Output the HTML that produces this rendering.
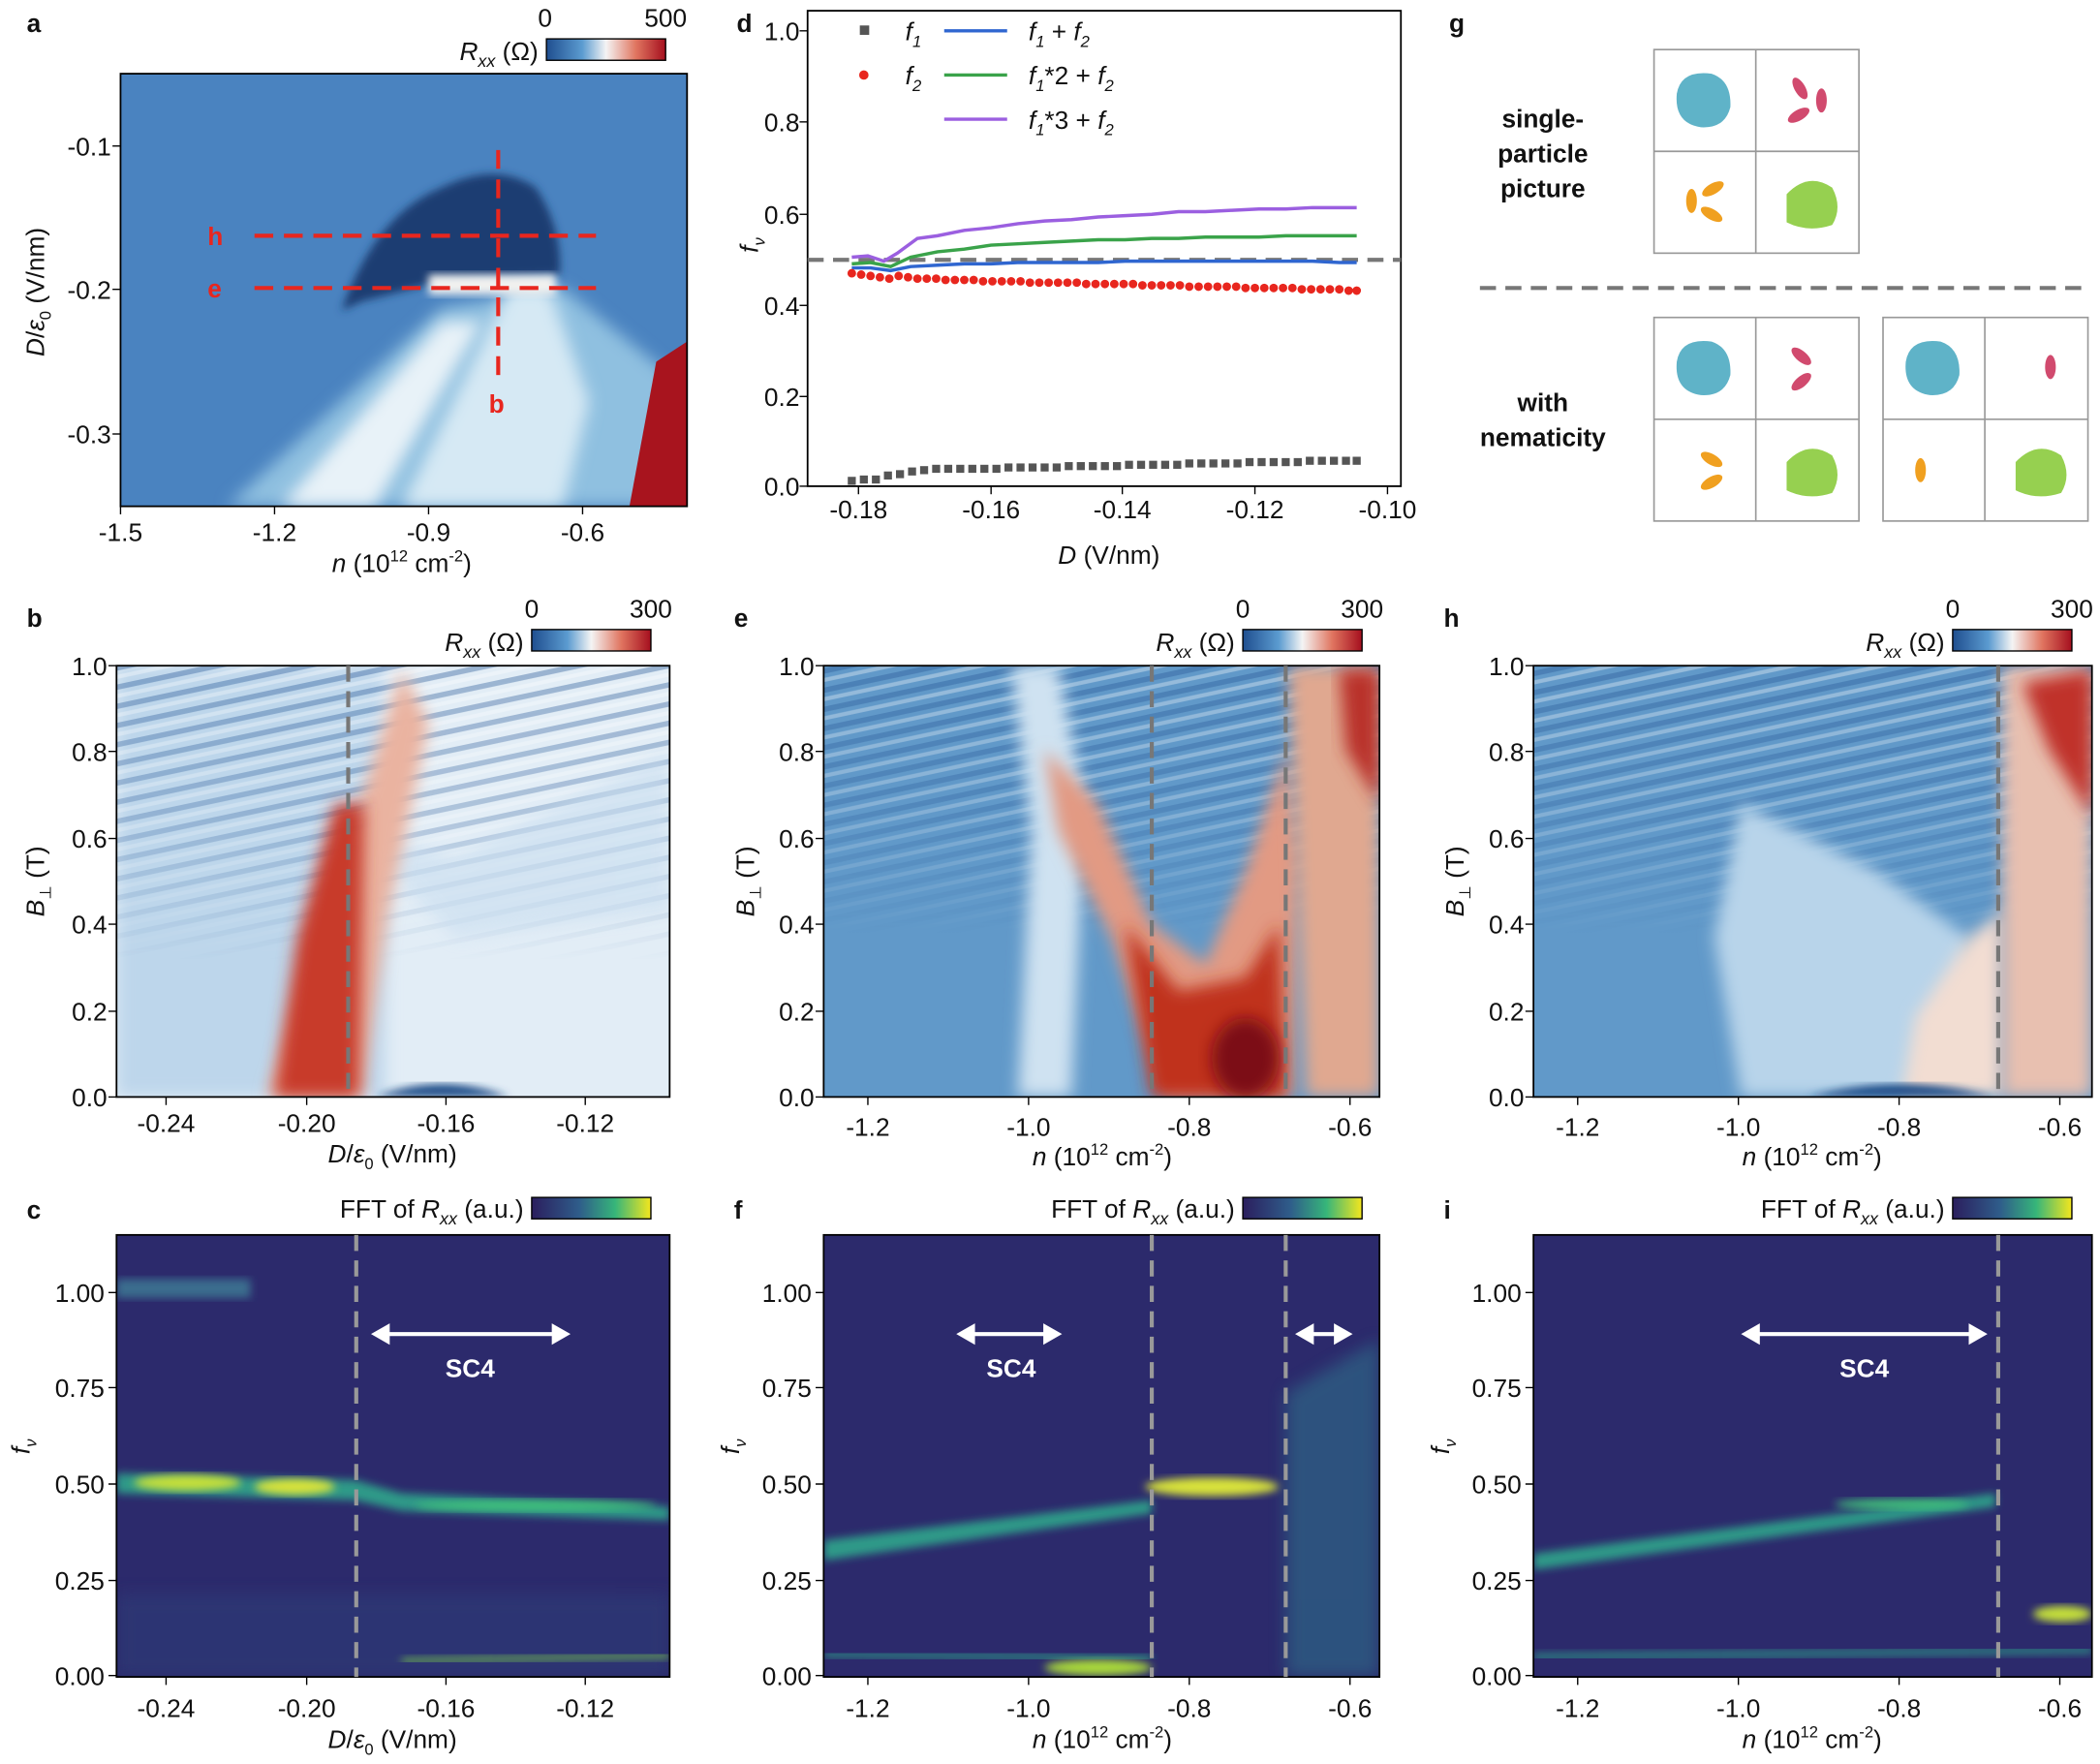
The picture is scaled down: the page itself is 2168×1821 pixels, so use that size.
<!DOCTYPE html>
<html><head><meta charset="utf-8"><style>
html,body{margin:0;padding:0;background:#fff}
svg{display:block}
text{font-family:"Liberation Sans",Arial,sans-serif;fill:#111}
.t{font-size:19px}
.b{font-weight:bold;font-size:19px}
</style></head><body>
<svg width="2168" height="1821" viewBox="0 0 1568 1317" xmlns="http://www.w3.org/2000/svg">
<defs>
<linearGradient id="rdbu" x1="0" x2="1"><stop offset="0" stop-color="#1f4e8f"/><stop offset=".3" stop-color="#5b9bd0"/><stop offset=".5" stop-color="#f4f4f4"/><stop offset=".75" stop-color="#e07560"/><stop offset="1" stop-color="#a50f1e"/></linearGradient>
<linearGradient id="vir" x1="0" x2="1"><stop offset="0" stop-color="#2b1e5e"/><stop offset=".4" stop-color="#2f5d8a"/><stop offset=".7" stop-color="#36b57a"/><stop offset="1" stop-color="#f4e61e"/></linearGradient>
<linearGradient id="fade" x1="0" x2="0" y1="0" y2="1"><stop offset="0" stop-color="#fff"/><stop offset=".5" stop-color="#fff" stop-opacity=".7"/><stop offset="1" stop-color="#fff" stop-opacity="0"/></linearGradient>
<mask id="fm" maskContentUnits="objectBoundingBox"><rect width="1" height="1" fill="url(#fade)"/></mask>
<filter id="bl" x="-20%" y="-20%" width="140%" height="140%"><feGaussianBlur stdDeviation="6"/></filter>
<filter id="bl2" x="-20%" y="-20%" width="140%" height="140%"><feGaussianBlur stdDeviation="3"/></filter>
<clipPath id="ca"><rect x="90" y="55" width="423" height="323"/></clipPath>
<clipPath id="cb"><rect x="87" y="497" width="413" height="322"/></clipPath>
<clipPath id="ce"><rect x="615" y="497" width="415" height="322"/></clipPath>
<clipPath id="ch"><rect x="1145" y="497" width="417" height="322"/></clipPath>
<clipPath id="cc"><rect x="87" y="922" width="413" height="330"/></clipPath>
<clipPath id="cf"><rect x="615" y="922" width="415" height="330"/></clipPath>
<clipPath id="ci"><rect x="1145" y="922" width="417" height="330"/></clipPath>
<pattern id="stripes" width="20" height="14" patternUnits="userSpaceOnUse" patternTransform="rotate(-12)"><rect width="20" height="4" fill="#2a5a98" opacity=".4"/><rect y="7" width="20" height="3" fill="#fff" opacity=".35"/></pattern>
</defs>

<!-- ===== Panel a ===== -->
<text x="20" y="24" class="b">a</text>
<g clip-path="url(#ca)">
<rect x="90" y="55" width="423" height="323" fill="#4a83c0"/>
<path d="M170 378 L330 230 L420 215 L513 290 L513 378Z" fill="#8fc0e0" filter="url(#bl)"/>
<path d="M210 378 L330 240 L360 240 L280 378Z" fill="#e8f2f8" filter="url(#bl)"/>
<path d="M300 378 L380 215 L410 215 L440 300 L420 378Z" fill="#d6e9f4" filter="url(#bl)"/>
<path d="M255 232 Q280 160 330 140 Q370 120 400 140 Q420 170 418 205 L330 210 L270 225Z" fill="#1e3d72" filter="url(#bl2)"/>
<rect x="320" y="205" width="95" height="15" fill="#f1f1ef" filter="url(#bl2)"/>
<path d="M490 270 L513 255 L513 378 L470 378Z" fill="#a8141e"/>
</g>
<rect x="90" y="55" width="423" height="323" fill="none" stroke="#000" stroke-width="1.3"/>
<g stroke="#e8261e" stroke-width="3" stroke-dasharray="14,8">
<line x1="190" y1="176" x2="445" y2="176"/><line x1="190" y1="215" x2="445" y2="215"/><line x1="372" y1="112" x2="372" y2="280"/></g>
<text x="155" y="183" style="fill:#e8261e" class="b">h</text>
<text x="155" y="222" style="fill:#e8261e" class="b">e</text>
<text x="365" y="308" style="fill:#e8261e" class="b">b</text>
<g class="t" text-anchor="end"><text x="83" y="116">-0.1</text><text x="83" y="223">-0.2</text><text x="83" y="331">-0.3</text></g>
<g stroke="#000"><line x1="84" y1="109" x2="90" y2="109"/><line x1="84" y1="216" x2="90" y2="216"/><line x1="84" y1="324" x2="90" y2="324"/>
<line x1="90" y1="378" x2="90" y2="384"/><line x1="205" y1="378" x2="205" y2="384"/><line x1="320" y1="378" x2="320" y2="384"/><line x1="435" y1="378" x2="435" y2="384"/></g>
<g class="t" text-anchor="middle"><text x="90" y="404">-1.5</text><text x="205" y="404">-1.2</text><text x="320" y="404">-0.9</text><text x="435" y="404">-0.6</text></g>
<text x="300" y="427" class="t" text-anchor="middle"><tspan font-style="italic">n</tspan> (10<tspan font-size="12" dy="-8">12</tspan><tspan dy="8"> cm</tspan><tspan font-size="12" dy="-8">-2</tspan><tspan dy="8">)</tspan></text>
<text transform="translate(33,218) rotate(-90)" class="t" text-anchor="middle"><tspan font-style="italic">D</tspan>/<tspan font-style="italic">ε</tspan><tspan font-size="12" dy="5">0</tspan><tspan dy="-5"> (V/nm)</tspan></text>
<rect x="408" y="29" width="89" height="16" fill="url(#rdbu)" stroke="#000"/>
<text x="407" y="20" class="t" text-anchor="middle">0</text><text x="497" y="20" class="t" text-anchor="middle">500</text>
<text x="402" y="45" class="t" text-anchor="end"><tspan font-style="italic">R</tspan><tspan font-style="italic" font-size="13" dy="5">xx</tspan><tspan dy="-5"> (Ω)</tspan></text>

<!-- ===== Panel d ===== -->
<text x="550" y="24" class="b">d</text>
<rect x="603" y="8" width="443" height="355" fill="none" stroke="#000" stroke-width="1.3"/>
<g class="t" text-anchor="end"><text x="597" y="30">1.0</text><text x="597" y="98">0.8</text><text x="597" y="167">0.6</text><text x="597" y="235">0.4</text><text x="597" y="303">0.2</text><text x="597" y="370">0.0</text></g>
<g stroke="#000"><line x1="597" y1="23" x2="603" y2="23"/><line x1="597" y1="91" x2="603" y2="91"/><line x1="597" y1="160" x2="603" y2="160"/><line x1="597" y1="228" x2="603" y2="228"/><line x1="597" y1="296" x2="603" y2="296"/><line x1="597" y1="363" x2="603" y2="363"/>
<line x1="641" y1="363" x2="641" y2="369"/><line x1="740" y1="363" x2="740" y2="369"/><line x1="838" y1="363" x2="838" y2="369"/><line x1="937" y1="363" x2="937" y2="369"/><line x1="1036" y1="363" x2="1036" y2="369"/></g>
<g class="t" text-anchor="middle"><text x="641" y="387">-0.18</text><text x="740" y="387">-0.16</text><text x="838" y="387">-0.14</text><text x="937" y="387">-0.12</text><text x="1036" y="387">-0.10</text></g>
<text x="828" y="421" class="t" text-anchor="middle"><tspan font-style="italic">D</tspan> (V/nm)</text>
<text transform="translate(566,183) rotate(-90)" class="t" font-style="italic" text-anchor="middle">f<tspan font-size="12" dy="5">ν</tspan></text>
<line x1="603" y1="194" x2="1046" y2="194" stroke="#777" stroke-width="3" stroke-dasharray="12,7"/>
<polyline fill="none" stroke="#9b5fe0" stroke-width="2.5" points="636,192 648,191 660,195 670,189 685,178 700,176 720,172 740,170 760,167 780,165 800,164 820,162 840,161 860,160 880,158 900,158 920,157 940,156 960,156 980,155 1000,155 1013,155"/>
<polyline fill="none" stroke="#3aa34a" stroke-width="2.5" points="636,197 650,196 665,199 680,192 700,188 720,186 740,183 760,182 780,181 800,180 820,179 840,179 860,178 880,178 900,177 920,177 940,177 960,176 980,176 1000,176 1013,176"/>
<polyline fill="none" stroke="#2f66d0" stroke-width="2.5" points="636,200 650,200 665,202 680,199 700,198 720,197 740,197 760,196 780,196 800,196 820,196 840,195 860,195 880,195 900,195 920,195 940,195 960,195 980,195 1000,196 1013,196"/>
<g fill="#e8261e">
<circle cx="636" cy="204" r="3.2"/><circle cx="643" cy="205" r="3.2"/><circle cx="650" cy="206" r="3.2"/><circle cx="657" cy="207" r="3.2"/><circle cx="664" cy="208" r="3.2"/><circle cx="671" cy="206" r="3.2"/><circle cx="678" cy="207" r="3.2"/><circle cx="685" cy="208" r="3.2"/><circle cx="692" cy="208" r="3.2"/><circle cx="699" cy="208" r="3.2"/><circle cx="706" cy="209" r="3.2"/><circle cx="713" cy="209" r="3.2"/><circle cx="720" cy="209" r="3.2"/><circle cx="727" cy="209" r="3.2"/><circle cx="734" cy="210" r="3.2"/><circle cx="741" cy="210" r="3.2"/><circle cx="748" cy="210" r="3.2"/><circle cx="755" cy="210" r="3.2"/><circle cx="762" cy="210" r="3.2"/><circle cx="769" cy="211" r="3.2"/><circle cx="776" cy="211" r="3.2"/><circle cx="783" cy="211" r="3.2"/><circle cx="790" cy="211" r="3.2"/><circle cx="797" cy="211" r="3.2"/><circle cx="804" cy="211" r="3.2"/><circle cx="811" cy="212" r="3.2"/><circle cx="818" cy="212" r="3.2"/><circle cx="825" cy="212" r="3.2"/><circle cx="832" cy="212" r="3.2"/><circle cx="839" cy="212" r="3.2"/><circle cx="846" cy="212" r="3.2"/><circle cx="853" cy="213" r="3.2"/><circle cx="860" cy="213" r="3.2"/><circle cx="867" cy="213" r="3.2"/><circle cx="874" cy="213" r="3.2"/><circle cx="881" cy="213" r="3.2"/><circle cx="888" cy="214" r="3.2"/><circle cx="895" cy="214" r="3.2"/><circle cx="902" cy="214" r="3.2"/><circle cx="909" cy="214" r="3.2"/><circle cx="916" cy="214" r="3.2"/><circle cx="923" cy="214" r="3.2"/><circle cx="930" cy="215" r="3.2"/><circle cx="937" cy="215" r="3.2"/><circle cx="944" cy="215" r="3.2"/><circle cx="951" cy="215" r="3.2"/><circle cx="958" cy="215" r="3.2"/><circle cx="965" cy="215" r="3.2"/><circle cx="972" cy="216" r="3.2"/><circle cx="979" cy="216" r="3.2"/><circle cx="986" cy="216" r="3.2"/><circle cx="993" cy="216" r="3.2"/><circle cx="1000" cy="216" r="3.2"/><circle cx="1007" cy="217" r="3.2"/><circle cx="1013" cy="217" r="3.2"/>
</g>
<g fill="#555">
<rect x="633" y="356" width="6" height="6"/><rect x="642" y="355" width="6" height="6"/><rect x="651" y="355" width="6" height="6"/><rect x="660" y="352" width="6" height="6"/><rect x="669" y="351" width="6" height="6"/><rect x="678" y="349" width="6" height="6"/><rect x="687" y="348" width="6" height="6"/><rect x="696" y="347" width="6" height="6"/><rect x="705" y="347" width="6" height="6"/><rect x="714" y="347" width="6" height="6"/><rect x="723" y="347" width="6" height="6"/><rect x="732" y="347" width="6" height="6"/><rect x="741" y="347" width="6" height="6"/><rect x="750" y="346" width="6" height="6"/><rect x="759" y="346" width="6" height="6"/><rect x="768" y="346" width="6" height="6"/><rect x="777" y="346" width="6" height="6"/><rect x="786" y="346" width="6" height="6"/><rect x="795" y="345" width="6" height="6"/><rect x="804" y="345" width="6" height="6"/><rect x="813" y="345" width="6" height="6"/><rect x="822" y="345" width="6" height="6"/><rect x="831" y="345" width="6" height="6"/><rect x="840" y="344" width="6" height="6"/><rect x="849" y="344" width="6" height="6"/><rect x="858" y="344" width="6" height="6"/><rect x="867" y="344" width="6" height="6"/><rect x="876" y="344" width="6" height="6"/><rect x="885" y="343" width="6" height="6"/><rect x="894" y="343" width="6" height="6"/><rect x="903" y="343" width="6" height="6"/><rect x="912" y="343" width="6" height="6"/><rect x="921" y="343" width="6" height="6"/><rect x="930" y="342" width="6" height="6"/><rect x="939" y="342" width="6" height="6"/><rect x="948" y="342" width="6" height="6"/><rect x="957" y="342" width="6" height="6"/><rect x="966" y="342" width="6" height="6"/><rect x="975" y="341" width="6" height="6"/><rect x="984" y="341" width="6" height="6"/><rect x="993" y="341" width="6" height="6"/><rect x="1002" y="341" width="6" height="6"/><rect x="1010" y="341" width="6" height="6"/>
</g>
<rect x="642" y="19" width="7" height="7" fill="#555"/><circle cx="645" cy="56" r="3.5" fill="#e8261e"/>
<text x="676" y="30" class="t" font-style="italic">f<tspan font-size="12" dy="5">1</tspan></text>
<text x="676" y="63" class="t" font-style="italic">f<tspan font-size="12" dy="5">2</tspan></text>
<line x1="705" y1="23" x2="752" y2="23" stroke="#2f66d0" stroke-width="2.5"/>
<line x1="705" y1="56" x2="752" y2="56" stroke="#3aa34a" stroke-width="2.5"/>
<line x1="705" y1="89" x2="752" y2="89" stroke="#9b5fe0" stroke-width="2.5"/>
<text x="768" y="30" class="t"><tspan font-style="italic">f</tspan><tspan font-size="12" dy="5" font-style="italic">1</tspan><tspan dy="-5"> + </tspan><tspan font-style="italic">f</tspan><tspan font-size="12" dy="5" font-style="italic">2</tspan></text>
<text x="768" y="63" class="t"><tspan font-style="italic">f</tspan><tspan font-size="12" dy="5" font-style="italic">1</tspan><tspan dy="-5">*2 + </tspan><tspan font-style="italic">f</tspan><tspan font-size="12" dy="5" font-style="italic">2</tspan></text>
<text x="768" y="96" class="t"><tspan font-style="italic">f</tspan><tspan font-size="12" dy="5" font-style="italic">1</tspan><tspan dy="-5">*3 + </tspan><tspan font-style="italic">f</tspan><tspan font-size="12" dy="5" font-style="italic">2</tspan></text>

<!-- ===== Panel g ===== -->
<text x="1082" y="24" class="b">g</text>
<g font-weight="bold" class="t" text-anchor="middle"><text x="1152" y="95">single-</text><text x="1152" y="121">particle</text><text x="1152" y="147">picture</text><text x="1152" y="307">with</text><text x="1152" y="333">nematicity</text></g>
<line x1="1105" y1="215" x2="1560" y2="215" stroke="#777" stroke-width="3" stroke-dasharray="12,7"/>
<g fill="none" stroke="#999" stroke-width="1.2">
<rect x="1235" y="37" width="153" height="152"/><line x1="1311" y1="37" x2="1311" y2="189"/><line x1="1235" y1="113" x2="1388" y2="113"/>
<rect x="1235" y="237" width="153" height="152"/><line x1="1311" y1="237" x2="1311" y2="389"/><line x1="1235" y1="313" x2="1388" y2="313"/>
<rect x="1406" y="237" width="153" height="152"/><line x1="1482" y1="237" x2="1482" y2="389"/><line x1="1406" y1="313" x2="1559" y2="313"/></g>
<g fill="#5fb3c8"><path d="M1252 70 Q1255 52 1278 55 Q1293 60 1292 80 Q1288 96 1270 95 Q1250 92 1252 70Z"/><path d="M1252 270 Q1255 252 1278 255 Q1293 260 1292 280 Q1288 296 1270 295 Q1250 292 1252 270Z"/><path d="M1423 270 Q1426 252 1449 255 Q1464 260 1463 280 Q1459 296 1441 295 Q1421 292 1423 270Z"/></g>
<g fill="#96d050"><path d="M1334 145 Q1350 128 1368 140 Q1376 155 1368 168 Q1350 174 1334 166Z"/><path d="M1334 345 Q1350 328 1368 340 Q1376 355 1368 368 Q1350 374 1334 366Z"/><path d="M1505 345 Q1521 328 1539 340 Q1547 355 1539 368 Q1521 374 1505 366Z"/></g>
<g fill="#d14a6e"><ellipse cx="1344" cy="66" rx="4" ry="9" transform="rotate(-30 1344 66)"/><ellipse cx="1360" cy="75" rx="4" ry="9"/><ellipse cx="1343" cy="86" rx="4" ry="9" transform="rotate(60 1343 86)"/>
<ellipse cx="1345" cy="266" rx="4" ry="9" transform="rotate(-50 1345 266)"/><ellipse cx="1345" cy="285" rx="4" ry="9" transform="rotate(50 1345 285)"/><ellipse cx="1531" cy="274" rx="4" ry="9"/></g>
<g fill="#f0a020"><ellipse cx="1263" cy="150" rx="4" ry="9"/><ellipse cx="1279" cy="141" rx="4" ry="9" transform="rotate(60 1279 141)"/><ellipse cx="1278" cy="160" rx="4" ry="9" transform="rotate(-60 1278 160)"/>
<ellipse cx="1278" cy="343" rx="4" ry="9" transform="rotate(-60 1278 343)"/><ellipse cx="1278" cy="360" rx="4" ry="9" transform="rotate(60 1278 360)"/><ellipse cx="1434" cy="351" rx="4" ry="9"/></g>

<!-- ===== Panel b ===== -->
<text x="20" y="468" class="b">b</text>
<g clip-path="url(#cb)">
<rect x="87" y="497" width="413" height="322" fill="#e2edf6"/>
<rect x="87" y="497" width="200" height="322" fill="#bdd6eb" filter="url(#bl)"/>
<rect x="87" y="497" width="413" height="220" fill="url(#stripes)" mask="url(#fm)"/>
<path d="M260 620 L340 640 L500 560 L500 680 L340 700Z" fill="#c9def0" opacity=".6" filter="url(#bl)"/>
<path d="M120 819 L200 819 L240 680 L275 580 L300 500 L320 540 L290 680 L270 819Z" fill="#eab3a0" filter="url(#bl)"/>
<path d="M205 819 L222 700 L250 600 L272 600 L268 819Z" fill="#c83a2c" filter="url(#bl)"/>
<path d="M280 819 Q330 800 380 819Z" fill="#1e4b87" filter="url(#bl2)"/>
</g>
<rect x="87" y="497" width="413" height="322" fill="none" stroke="#000" stroke-width="1.3"/>
<line x1="260" y1="497" x2="260" y2="819" stroke="#777" stroke-width="3" stroke-dasharray="12,7"/>

<!-- ===== Panel e ===== -->
<text x="548" y="468" class="b">e</text>
<g clip-path="url(#ce)">
<rect x="615" y="497" width="415" height="322" fill="#6199c9"/>
<rect x="615" y="497" width="415" height="200" fill="url(#stripes)" mask="url(#fm)"/>
<path d="M755 497 L790 497 L810 600 L800 819 L760 819 L770 620Z" fill="#cfe2f1" filter="url(#bl)"/>
<path d="M780 560 L820 600 L860 690 L900 720 L930 650 L960 560 L970 640 L965 819 L870 819 L830 700 L790 620Z" fill="#e29a83" filter="url(#bl)"/>
<path d="M840 690 L880 740 L930 730 L955 690 L960 819 L860 819Z" fill="#c0301f" filter="url(#bl)"/>
<ellipse cx="930" cy="790" rx="25" ry="30" fill="#7b0c16" filter="url(#bl)"/>
<path d="M962 497 L1030 497 L1030 819 L975 819Z" fill="#e0a890" filter="url(#bl)"/>
<path d="M1000 500 L1030 500 L1030 600 L1005 560Z" fill="#b9302a" filter="url(#bl)"/>
</g>
<rect x="615" y="497" width="415" height="322" fill="none" stroke="#000" stroke-width="1.3"/>
<line x1="860" y1="497" x2="860" y2="819" stroke="#777" stroke-width="3" stroke-dasharray="12,7"/>
<line x1="960" y1="497" x2="960" y2="819" stroke="#777" stroke-width="3" stroke-dasharray="12,7"/>

<!-- ===== Panel h ===== -->
<text x="1078" y="468" class="b">h</text>
<g clip-path="url(#ch)">
<rect x="1145" y="497" width="417" height="322" fill="#6199c9"/>
<rect x="1145" y="497" width="417" height="200" fill="url(#stripes)" mask="url(#fm)"/>
<path d="M1300 600 L1400 650 L1470 700 L1480 819 L1300 819 L1280 700Z" fill="#b8d4ea" filter="url(#bl)"/>
<path d="M1420 819 L1430 760 L1470 700 L1495 680 L1495 819Z" fill="#f2ddd2" filter="url(#bl)"/>
<path d="M1495 497 L1562 497 L1562 819 L1495 819Z" fill="#e8c0b0" filter="url(#bl)"/>
<path d="M1510 510 L1562 500 L1562 610 L1530 560Z" fill="#c0302a" filter="url(#bl)"/>
<path d="M1350 819 Q1420 800 1490 819Z" fill="#1e4b87" filter="url(#bl2)"/>
</g>
<rect x="1145" y="497" width="417" height="322" fill="none" stroke="#000" stroke-width="1.3"/>
<line x1="1492" y1="497" x2="1492" y2="819" stroke="#777" stroke-width="3" stroke-dasharray="12,7"/>

<!-- ticks b,e,h -->
<g stroke="#000">
<path d="M81 497h6M81 561h6M81 626h6M81 690h6M81 755h6M81 819h6M124 819v6M229 819v6M333 819v6M437 819v6"/>
<path d="M609 497h6M609 561h6M609 626h6M609 690h6M609 755h6M609 819h6M648 819v6M768 819v6M888 819v6M1008 819v6"/>
<path d="M1139 497h6M1139 561h6M1139 626h6M1139 690h6M1139 755h6M1139 819h6M1178 819v6M1298 819v6M1418 819v6M1538 819v6"/>
<path d="M81 965h6M81 1036h6M81 1108h6M81 1180h6M81 1251h6M124 1252v6M229 1252v6M333 1252v6M437 1252v6"/>
<path d="M609 965h6M609 1036h6M609 1108h6M609 1180h6M609 1251h6M648 1252v6M768 1252v6M888 1252v6M1008 1252v6"/>
<path d="M1139 965h6M1139 1036h6M1139 1108h6M1139 1180h6M1139 1251h6M1178 1252v6M1298 1252v6M1418 1252v6M1538 1252v6"/>
</g>
<g class="t" text-anchor="end">
<text x="80" y="504">1.0</text><text x="80" y="568">0.8</text><text x="80" y="633">0.6</text><text x="80" y="697">0.4</text><text x="80" y="762">0.2</text><text x="80" y="826">0.0</text>
<text x="608" y="504">1.0</text><text x="608" y="568">0.8</text><text x="608" y="633">0.6</text><text x="608" y="697">0.4</text><text x="608" y="762">0.2</text><text x="608" y="826">0.0</text>
<text x="1138" y="504">1.0</text><text x="1138" y="568">0.8</text><text x="1138" y="633">0.6</text><text x="1138" y="697">0.4</text><text x="1138" y="762">0.2</text><text x="1138" y="826">0.0</text></g>
<g class="t" text-anchor="middle">
<text x="124" y="845">-0.24</text><text x="229" y="845">-0.20</text><text x="333" y="845">-0.16</text><text x="437" y="845">-0.12</text>
<text x="648" y="848">-1.2</text><text x="768" y="848">-1.0</text><text x="888" y="848">-0.8</text><text x="1008" y="848">-0.6</text>
<text x="1178" y="848">-1.2</text><text x="1298" y="848">-1.0</text><text x="1418" y="848">-0.8</text><text x="1538" y="848">-0.6</text></g>
<text x="293" y="868" class="t" text-anchor="middle"><tspan font-style="italic">D</tspan>/<tspan font-style="italic">ε</tspan><tspan font-size="12" dy="5">0</tspan><tspan dy="-5"> (V/nm)</tspan></text>
<text x="823" y="870" class="t" text-anchor="middle"><tspan font-style="italic">n</tspan> (10<tspan font-size="12" dy="-8">12</tspan><tspan dy="8"> cm</tspan><tspan font-size="12" dy="-8">-2</tspan><tspan dy="8">)</tspan></text>
<text x="1353" y="870" class="t" text-anchor="middle"><tspan font-style="italic">n</tspan> (10<tspan font-size="12" dy="-8">12</tspan><tspan dy="8"> cm</tspan><tspan font-size="12" dy="-8">-2</tspan><tspan dy="8">)</tspan></text>
<text transform="translate(33,658) rotate(-90)" class="t" text-anchor="middle"><tspan font-style="italic">B</tspan><tspan font-size="12" dy="5">⊥</tspan><tspan dy="-5"> (T)</tspan></text>
<text transform="translate(563,658) rotate(-90)" class="t" text-anchor="middle"><tspan font-style="italic">B</tspan><tspan font-size="12" dy="5">⊥</tspan><tspan dy="-5"> (T)</tspan></text>
<text transform="translate(1093,658) rotate(-90)" class="t" text-anchor="middle"><tspan font-style="italic">B</tspan><tspan font-size="12" dy="5">⊥</tspan><tspan dy="-5"> (T)</tspan></text>
<g>
<rect x="397" y="470" width="89" height="16" fill="url(#rdbu)" stroke="#000"/><text x="397" y="461" class="t" text-anchor="middle">0</text><text x="486" y="461" class="t" text-anchor="middle">300</text>
<text x="391" y="486" class="t" text-anchor="end"><tspan font-style="italic">R</tspan><tspan font-style="italic" font-size="13" dy="5">xx</tspan><tspan dy="-5"> (Ω)</tspan></text>
<rect x="928" y="470" width="89" height="16" fill="url(#rdbu)" stroke="#000"/><text x="928" y="461" class="t" text-anchor="middle">0</text><text x="1017" y="461" class="t" text-anchor="middle">300</text>
<text x="922" y="486" class="t" text-anchor="end"><tspan font-style="italic">R</tspan><tspan font-style="italic" font-size="13" dy="5">xx</tspan><tspan dy="-5"> (Ω)</tspan></text>
<rect x="1458" y="470" width="89" height="16" fill="url(#rdbu)" stroke="#000"/><text x="1458" y="461" class="t" text-anchor="middle">0</text><text x="1547" y="461" class="t" text-anchor="middle">300</text>
<text x="1452" y="486" class="t" text-anchor="end"><tspan font-style="italic">R</tspan><tspan font-style="italic" font-size="13" dy="5">xx</tspan><tspan dy="-5"> (Ω)</tspan></text>
</g>

<!-- ===== Panel c ===== -->
<text x="20" y="910" class="b">c</text>
<g clip-path="url(#cc)">
<rect x="87" y="922" width="413" height="330" fill="#2c2a6c"/>
<rect x="87" y="955" width="100" height="14" fill="#3b6d8e" filter="url(#bl2)"/>
<rect x="87" y="1190" width="413" height="62" fill="#2d3c78" opacity=".6" filter="url(#bl)"/>
<path d="M87 1100 L265 1105 L300 1115 L500 1125 L500 1135 L300 1128 L265 1120 L87 1115Z" fill="#2f9a88" filter="url(#bl2)"/>
<ellipse cx="140" cy="1107" rx="40" ry="6" fill="#c5df3a" filter="url(#bl2)"/>
<ellipse cx="220" cy="1110" rx="30" ry="6" fill="#d8e23a" filter="url(#bl2)"/>
<ellipse cx="400" cy="1124" rx="90" ry="4" fill="#3fbf7a" filter="url(#bl2)"/>
<line x1="300" y1="1240" x2="500" y2="1236" stroke="#7fd14a" stroke-width="3" filter="url(#bl2)"/>
</g>
<rect x="87" y="922" width="413" height="330" fill="none" stroke="#000" stroke-width="1.3"/>
<line x1="266" y1="922" x2="266" y2="1252" stroke="#999" stroke-width="3" stroke-dasharray="12,7"/>
<g stroke="#fff" stroke-width="3" fill="#fff"><line x1="285" y1="996" x2="418" y2="996"/><path d="M277 996 L291 988 L291 1004Z" stroke="none"/><path d="M426 996 L412 988 L412 1004Z" stroke="none"/></g>
<text x="351" y="1028" class="b" text-anchor="middle" style="fill:#fff">SC4</text>

<!-- ===== Panel f ===== -->
<text x="548" y="910" class="b">f</text>
<g clip-path="url(#cf)">
<rect x="615" y="922" width="415" height="330" fill="#2c2a6c"/>
<path d="M615 1150 L860 1120 L860 1130 L615 1165Z" fill="#2f9a88" filter="url(#bl2)"/>
<ellipse cx="905" cy="1110" rx="50" ry="7" fill="#d8e23a" filter="url(#bl2)"/>
<path d="M960 1040 L1030 1000 L1030 1252 L960 1252Z" fill="#2f6e8a" opacity=".6" filter="url(#bl)"/>
<ellipse cx="820" cy="1245" rx="40" ry="6" fill="#a9d83a" filter="url(#bl2)"/>
<line x1="615" y1="1235" x2="860" y2="1238" stroke="#2f9a88" stroke-width="4" filter="url(#bl2)"/>
</g>
<rect x="615" y="922" width="415" height="330" fill="none" stroke="#000" stroke-width="1.3"/>
<line x1="860" y1="922" x2="860" y2="1252" stroke="#999" stroke-width="3" stroke-dasharray="12,7"/>
<line x1="960" y1="922" x2="960" y2="1252" stroke="#999" stroke-width="3" stroke-dasharray="12,7"/>
<g stroke="#fff" stroke-width="3" fill="#fff"><line x1="722" y1="996" x2="785" y2="996"/><path d="M714 996 L728 988 L728 1004Z" stroke="none"/><path d="M793 996 L779 988 L779 1004Z" stroke="none"/>
<line x1="975" y1="996" x2="1002" y2="996"/><path d="M967 996 L981 988 L981 1004Z" stroke="none"/><path d="M1010 996 L996 988 L996 1004Z" stroke="none"/></g>
<text x="755" y="1028" class="b" text-anchor="middle" style="fill:#fff">SC4</text>

<!-- ===== Panel i ===== -->
<text x="1078" y="910" class="b">i</text>
<g clip-path="url(#ci)">
<rect x="1145" y="922" width="417" height="330" fill="#2c2a6c"/>
<path d="M1145 1160 L1490 1115 L1490 1125 L1145 1172Z" fill="#2f9a88" filter="url(#bl2)"/>
<ellipse cx="1420" cy="1123" rx="50" ry="4" fill="#3fbf7a" filter="url(#bl2)"/>
<ellipse cx="1540" cy="1205" rx="22" ry="6" fill="#c5df3a" filter="url(#bl2)"/>
<line x1="1145" y1="1237" x2="1562" y2="1232" stroke="#2f9a88" stroke-width="4" filter="url(#bl2)"/>
</g>
<rect x="1145" y="922" width="417" height="330" fill="none" stroke="#000" stroke-width="1.3"/>
<line x1="1492" y1="922" x2="1492" y2="1252" stroke="#999" stroke-width="3" stroke-dasharray="12,7"/>
<g stroke="#fff" stroke-width="3" fill="#fff"><line x1="1308" y1="996" x2="1476" y2="996"/><path d="M1300 996 L1314 988 L1314 1004Z" stroke="none"/><path d="M1484 996 L1470 988 L1470 1004Z" stroke="none"/></g>
<text x="1392" y="1028" class="b" text-anchor="middle" style="fill:#fff">SC4</text>

<g class="t" text-anchor="end">
<text x="78" y="972">1.00</text><text x="78" y="1043">0.75</text><text x="78" y="1115">0.50</text><text x="78" y="1187">0.25</text><text x="78" y="1258">0.00</text>
<text x="606" y="972">1.00</text><text x="606" y="1043">0.75</text><text x="606" y="1115">0.50</text><text x="606" y="1187">0.25</text><text x="606" y="1258">0.00</text>
<text x="1136" y="972">1.00</text><text x="1136" y="1043">0.75</text><text x="1136" y="1115">0.50</text><text x="1136" y="1187">0.25</text><text x="1136" y="1258">0.00</text></g>
<g class="t" text-anchor="middle">
<text x="124" y="1282">-0.24</text><text x="229" y="1282">-0.20</text><text x="333" y="1282">-0.16</text><text x="437" y="1282">-0.12</text>
<text x="648" y="1282">-1.2</text><text x="768" y="1282">-1.0</text><text x="888" y="1282">-0.8</text><text x="1008" y="1282">-0.6</text>
<text x="1178" y="1282">-1.2</text><text x="1298" y="1282">-1.0</text><text x="1418" y="1282">-0.8</text><text x="1538" y="1282">-0.6</text></g>
<text x="293" y="1305" class="t" text-anchor="middle"><tspan font-style="italic">D</tspan>/<tspan font-style="italic">ε</tspan><tspan font-size="12" dy="5">0</tspan><tspan dy="-5"> (V/nm)</tspan></text>
<text x="823" y="1305" class="t" text-anchor="middle"><tspan font-style="italic">n</tspan> (10<tspan font-size="12" dy="-8">12</tspan><tspan dy="8"> cm</tspan><tspan font-size="12" dy="-8">-2</tspan><tspan dy="8">)</tspan></text>
<text x="1353" y="1305" class="t" text-anchor="middle"><tspan font-style="italic">n</tspan> (10<tspan font-size="12" dy="-8">12</tspan><tspan dy="8"> cm</tspan><tspan font-size="12" dy="-8">-2</tspan><tspan dy="8">)</tspan></text>
<text transform="translate(22,1080) rotate(-90)" class="t" font-style="italic" text-anchor="middle">f<tspan font-size="12" dy="5">ν</tspan></text>
<text transform="translate(552,1080) rotate(-90)" class="t" font-style="italic" text-anchor="middle">f<tspan font-size="12" dy="5">ν</tspan></text>
<text transform="translate(1082,1080) rotate(-90)" class="t" font-style="italic" text-anchor="middle">f<tspan font-size="12" dy="5">ν</tspan></text>
<g>
<rect x="397" y="894" width="89" height="16" fill="url(#vir)" stroke="#000"/>
<text x="391" y="909" class="t" text-anchor="end">FFT of <tspan font-style="italic">R</tspan><tspan font-style="italic" font-size="13" dy="5">xx</tspan><tspan dy="-5"> (a.u.)</tspan></text>
<rect x="928" y="894" width="89" height="16" fill="url(#vir)" stroke="#000"/>
<text x="922" y="909" class="t" text-anchor="end">FFT of <tspan font-style="italic">R</tspan><tspan font-style="italic" font-size="13" dy="5">xx</tspan><tspan dy="-5"> (a.u.)</tspan></text>
<rect x="1458" y="894" width="89" height="16" fill="url(#vir)" stroke="#000"/>
<text x="1452" y="909" class="t" text-anchor="end">FFT of <tspan font-style="italic">R</tspan><tspan font-style="italic" font-size="13" dy="5">xx</tspan><tspan dy="-5"> (a.u.)</tspan></text>
</g>
</svg>
</body></html>
